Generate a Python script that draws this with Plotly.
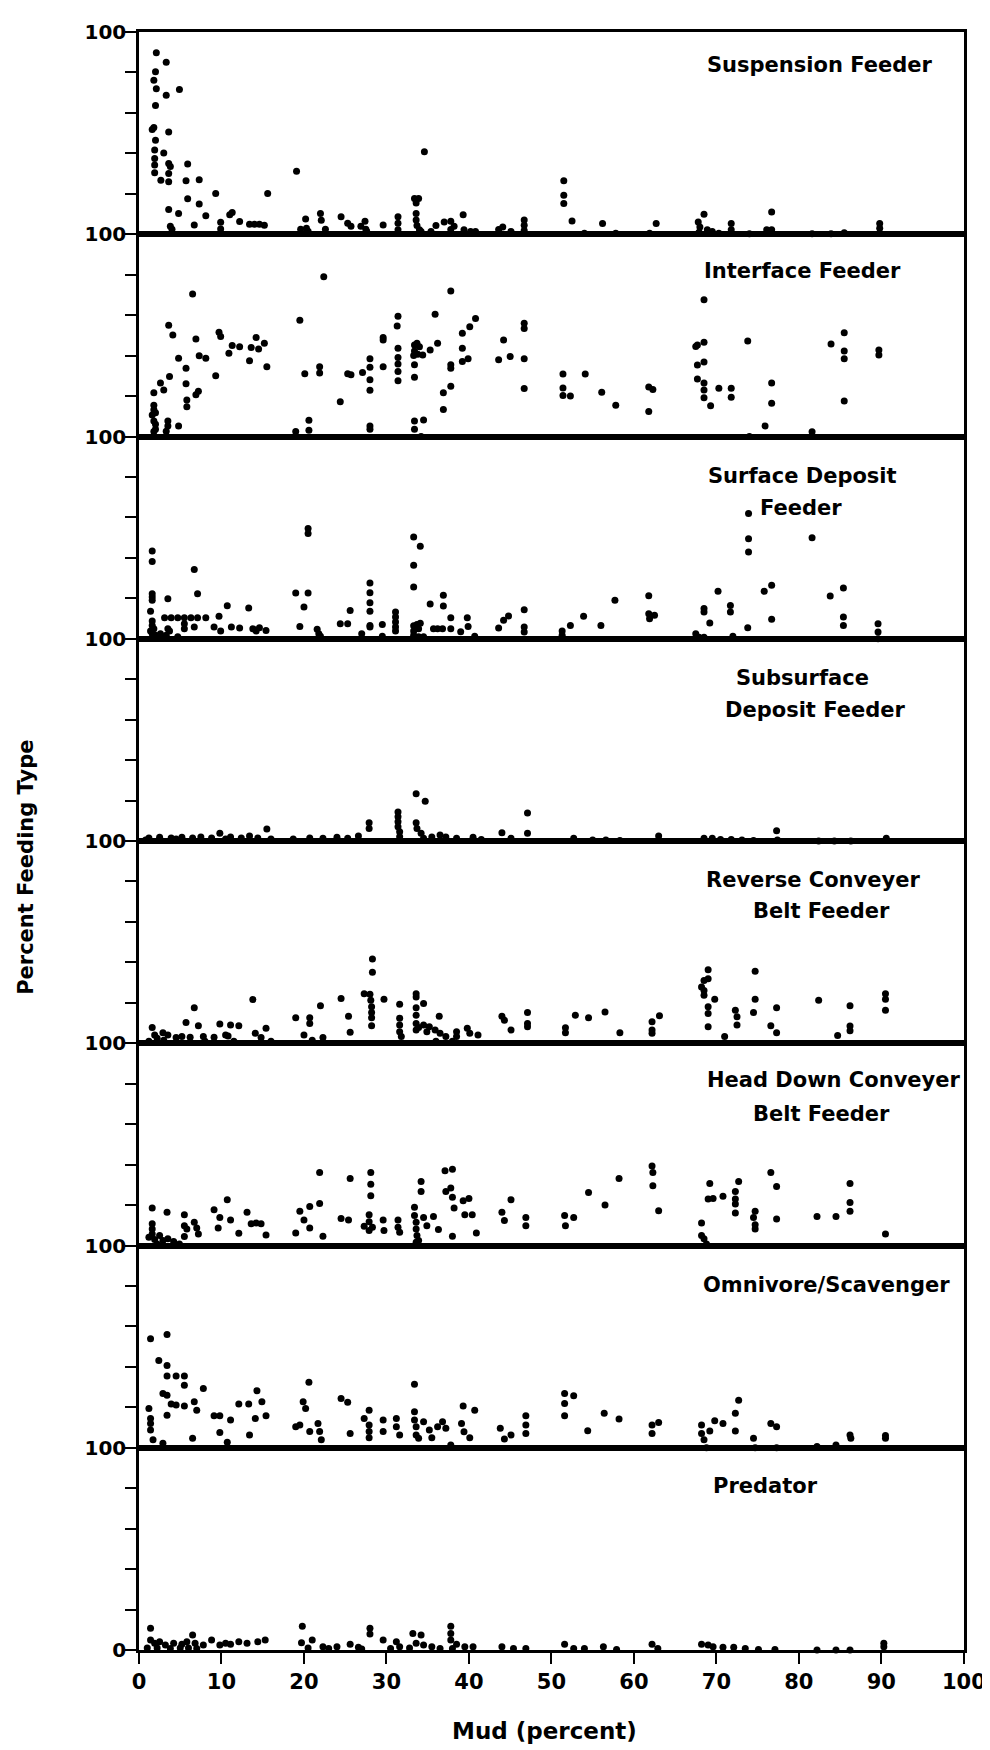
import plotly.graph_objects as go
from plotly.subplots import make_subplots

# ---------------- data (Mud %, Percent feeding type) ----------------
panel_names = ["Suspension Feeder", "Interface Feeder", "Surface Deposit Feeder",
               "Subsurface Deposit Feeder", "Reverse Conveyer Belt Feeder",
               "Head Down Conveyer Belt Feeder", "Omnivore/Scavenger", "Predator"]

susp_x = [2.1,3.3,2.0,1.8,2.1,3.3,4.9,2.0,1.8,1.6,3.6,2.0,1.9,3.0,1.9,1.9,3.6,3.8,1.9,3.6,2.65,3.6,5.9,5.7,7.3,5.9,7.3,3.6,4.8,3.8,4.0,6.7,8.1,9.3,9.9,9.9,11,11.3,12.2,13.4,14.0,14.6,15.2,15.6,19.1,19.6,20.2,20.3,20.5,22.0,22.1,22.6,24.5,25.3,25.7,26.9,27.4,27.5,27.6,29.6,31.4,31.4,31.4,33.4,33.9,33.6,33.6,33.6,33.7,34.0,34.2,34.6,35.4,36,37,37.8,37.8,38.2,39.3,39.4,40.2,40.8,43.6,44.1,45.1,46.7,46.7,46.7,51.5,51.5,51.5,52.5,54,56.2,57.8,61.9,62.7,67.8,68.0,68.5,68.9,69.5,67.9,70.3,71.8,71.8,74,76.7,76.1,76.7,81.6,83.9,85.5,89.8,89.8]
susp_y = [89.8,85,80.4,76.2,72,68.7,71.6,63.7,52.8,51.8,50.5,46.5,41.6,40.2,37.5,34.2,35,33.5,30.4,30,26.7,25.9,34.7,26.4,27,17.5,14.9,12.2,10.2,4,2.5,4.6,9.1,20.1,5.9,2.6,9.7,10.7,6.3,5,5,5,4.5,20.1,31.2,2.5,7.6,3,1.5,10.2,6.9,2.5,8.6,5.5,4,3.9,6.4,2.5,1.5,4.6,8.7,5.4,2.2,17.7,17.7,15.5,10.2,7,4.3,2.2,1.3,40.8,1.4,4.3,6,6.4,2.3,4,9.6,2.2,1.4,1.4,2.3,3.6,1.4,7.1,4.4,1.8,26.4,19.3,15.2,6.6,0.5,5.3,0.5,0.5,5.3,6.1,3.6,9.9,2.2,1.4,1,0.5,5.3,2.2,0.3,11,2.2,2.2,0.3,0.3,0.8,5.3,3]

intf_x = [1.8,1.8,1.8,2.0,1.6,1.8,2.0,2.0,1.8,3.0,2.6,3.6,4.1,3.7,3.5,3.5,3.3,4.8,4.8,5.7,5.7,5.8,5.8,6.5,6.9,6.9,7.2,7.3,8.1,9.3,9.7,9.9,10.9,11.3,12.2,13.4,13.6,14.2,14.5,15.2,15.5,19,19.5,20.1,20.6,20.6,21.9,21.9,22.4,24.4,25.3,25.7,27.1,28,28,28,28,28,28,29.6,29.6,29.6,31.4,31.3,31.4,31.4,31.4,31.4,31.4,33.4,33.7,34,33.4,33.8,33.3,33.4,33.4,34.4,33.4,33.4,34.5,34.2,35.3,35.9,36.2,36.9,36.9,37.8,37.8,37.8,37.8,39.2,39.2,39.2,39.9,40.1,40.8,43.6,44.2,45,46.7,46.7,46.7,46.7,51.4,51.4,51.4,52.3,54.1,56.1,57.8,61.8,62.3,61.8,67.5,67.7,68.5,68.5,67.7,68.5,67.7,68.5,68.5,68.5,69.3,70.3,71.8,71.8,73.8,74,75.9,76.7,76.7,81.6,83.9,85.5,85.5,85.5,85.5,89.7,89.7]
intf_y = [21.6,15.5,13.2,11.8,10.6,7.7,6,3.6,2.5,23,26.5,55,50.2,29.7,7.7,5.2,2.6,38.7,5.2,33.8,26.1,18,14.7,70.4,48.2,20.7,22.4,39.9,38.7,30,51.5,49.4,41.2,45,44.4,37.4,44,48.9,43.3,46.1,34.5,2.5,57.5,31,8,3.1,34.5,31.4,79,17.2,31,30.5,31.7,38.4,34.3,28.1,22.9,5.2,3.6,34.5,49,47.7,59.5,54.6,43.6,39.1,35.8,32.2,27.6,45.3,46.1,44.4,42.3,40.7,40,35.5,29.3,40.3,7.7,3.6,8.2,0,42.8,60.4,46.1,21.6,13.4,35.5,33.8,24.8,72,43.6,51,37.1,38.4,54.3,58.3,37.9,47.7,39.5,56,53.4,38.4,23.7,30.9,24,20.3,20,30.9,21.9,15.5,24.5,23.2,12.3,44.5,45.2,46.6,67.6,35.4,36.8,28.4,26.5,23,19.1,15.2,23.9,23.9,19.4,47.2,0,5.2,26.5,16.5,2.3,45.7,51.3,42.3,38.4,17.5,42.8,40.3]

surf_x = [1.6,1.6,1.6,1.6,1.6,1.4,1.6,1.6,1.8,1.4,1.6,2.0,2.6,2.4,3.5,3.5,3.7,3.3,4.7,3.1,3.9,4.7,5.5,6.3,7.1,8.1,5.5,5.5,6.7,6.7,7.1,9.1,9.9,9.7,10.7,11.2,12.2,13.3,13.8,14.6,15.4,14.2,19,20.5,20.5,20.5,20,19.5,21.6,21.8,22,24.4,25.3,25.6,27,28,28,28,28,28,28,29.5,29.5,31.1,31.1,31.1,31.1,31.1,33.3,34.1,33.3,33.3,33.3,33.7,34.1,33.3,33.9,33.3,33.9,34.5,35.3,35.7,36.2,36.8,36.9,36.9,37.8,37.8,39,39.8,39.9,40.7,43.6,44.2,44.8,46.7,46.7,46.7,51.3,51.3,52.3,53.9,56,57.7,61.8,61.8,61.9,62.5,67.5,67.9,68.5,68.5,68.5,69.2,70.2,71.7,71.7,72,73.8,73.9,73.9,73.9,75.8,76.7,76.7,81.6,83.8,85.4,85.4,85.4,89.6,89.6,89.6]
surf_y = [43.4,38.2,22.3,20.6,19,13.6,8.8,6.6,5,3.8,2.5,1.7,2.5,1,19.8,5,3.8,1.7,1,10.4,10.4,10.4,10.4,10.4,10.4,10.4,7.4,5,5.8,34.3,22.3,5.8,3.8,11.1,16.3,5.8,5.3,15.2,5,5.5,4.1,3.8,22.6,22.6,54.5,52,15.7,6.1,4.7,2.5,1.2,7.4,7.4,14,2.5,27.6,22.8,17.8,13.6,6.6,5.8,7.1,1.2,13.2,10.7,8.3,5.8,3.8,50.3,45.7,36.3,25.6,6.4,7,7.7,3.8,5,1.7,1,1,17.2,5,5,5,21.5,16.2,10.4,5,3.5,10.4,6.1,1.2,5.3,9.1,11.2,14.4,5.8,3.3,3.8,1.7,6.6,11.1,6.6,19,21.3,12.4,9.9,11.6,2.5,0.8,0.8,14.9,13.2,7.8,23.5,16.5,13.2,1.2,5.4,61.9,49.5,42.9,23.5,26.4,9.6,50,21.1,25.1,10.7,6.6,7.4,3.3,0]

subs_x = [0.8,1.2,2.5,3.9,4.5,5.2,6.5,7.5,8.8,9.8,10.5,11.1,12.4,13.4,14.4,15.5,16,18.7,20.7,22.3,24,25.3,26.6,27.9,27.9,31.4,31.4,31.4,31.4,31.6,31.6,33.6,34.7,33.6,33.7,34.2,34.5,35.5,36.5,37.2,38.5,40.5,41.5,44,47.1,47.1,45.1,52.7,55,56.6,58.3,63,68.5,69.5,70.5,71.8,73.1,74.5,77.3,77.4,82.4,84.3,86.3,90.6]
subs_y = [0.5,1.5,1.8,1.5,1,1.8,1.5,2,1.5,3.8,1,2,1.5,2.5,1.5,5.9,1,1,1.5,1.3,1.8,1.3,2.5,9,6.2,14.4,12,9.5,7,4.6,2.1,23.4,19.7,9,6.2,3.8,1.3,2,3,2,1.3,1.8,0.8,4.1,13.9,3.8,1.3,1.3,0.5,0.5,0.2,2.5,1.3,1.3,0.8,0.8,0.5,0.2,5.1,0.5,0,0,0,1.3]

rev_x = [1.2,1.6,1.9,2.9,3.0,3.5,4.5,5.2,2.2,5.7,6.7,7.2,6.2,7.8,8.0,9.1,10.5,9.8,11.1,11.5,12.1,10.8,13.8,14.1,15.4,14.8,16,19,20.7,20.7,20,21,22.3,22,24.5,25.4,25.6,27.3,28,28.3,28.3,28.1,28.2,28.2,28.2,28.2,29.7,31.6,31.6,31.6,31.6,31.8,33.6,33.6,34.5,33.6,33.6,33.6,33.6,33.9,34.5,35.2,34.9,35.9,36.5,36.4,36,37.2,38.5,38,39.8,40.1,41.1,38.5,44,44.3,45.1,47.1,47.1,47.1,51.7,51.7,52.9,54.5,56.5,58.3,62.2,62.2,62.2,63.1,68.5,69,68.2,68.5,68.5,69,69.8,69,69,69,71,72.3,72.5,72.5,74.7,74.7,74.5,76.6,77.3,77.3,82.4,84.7,86.2,86.2,86.2,90.5,90.5,90.5]
rev_y = [1,7.8,4.1,5.2,1.5,4.1,2.9,3.3,2.5,10.3,17.6,8.7,3,3.3,1,3,4.1,9.5,9,1,8.7,3.6,21.6,4.9,7.4,2.9,1,12.6,12.6,9.8,4.1,1.5,2.9,18.5,22.1,13.4,5.4,24.5,24.2,41.7,35.1,21.2,18,15.2,12.6,8.7,21.7,19.3,12.3,9,5.7,3.3,24.5,22.9,19.6,17.6,13.9,9.8,6.5,7.8,9,8.2,5.7,6.5,4.9,13.4,1,3.3,5.7,1,7.4,4.9,4.1,3.3,13.4,11.4,6.5,15.2,9.8,8.2,7.7,5.2,13.9,12.6,15.5,5.2,10.6,6.5,4.9,13.6,31,31.9,27.8,26.1,23.7,36.4,21.7,18,14.7,8.2,3.3,16.3,13.1,9,35.6,21.7,15.2,8.7,5.2,17.6,21.2,3.8,18.5,8.5,6.2,24.5,21.7,16.3]

head_x = [1.6,1.6,1.6,1.6,1.2,1.9,2.5,2.9,3.5,4.2,2.2,4.9,3.4,5.5,5.5,5.8,5.5,6.7,7,7.2,9.1,9.8,10.7,11.1,9.6,12.1,13.1,13.6,14.2,14.8,15.4,19,19.5,20,20.7,20.7,21.9,22.3,21.9,24.5,25.4,25.6,28.1,28.1,28.1,27.9,27.9,27.3,27.9,28.3,29.6,29.7,31.4,31.4,31.6,33.4,33.4,33.6,33.6,33.7,33.6,33.9,34.5,34.9,34.2,34.2,35.7,36.3,37.1,38,37.2,37.8,38,38.2,38,39.3,40,39.5,40.4,40.9,44,44.3,45.1,46.9,46.9,51.6,51.7,52.7,54.5,56.5,58.2,62.2,62.3,62.3,63,68.2,68.2,68.5,68.8,69.2,69,69.6,70.8,72.3,72.7,72.3,72.3,72.3,74.7,74.5,74.7,74.7,76.6,77.3,77.3,82.2,84.5,86.2,86.2,86.2,90.5]
head_y = [18.5,10.7,8.2,5.7,4.1,3,4.9,2.5,3.3,2,0.8,0.8,16.4,15.2,9.8,8.2,4.4,11.5,8.7,5.7,17.7,13.9,22.6,12.6,8.7,6.1,16.4,10.7,11.1,10.7,5.2,6.2,16.9,12.6,19.3,8.7,20.8,4.6,36.1,13.4,12.6,33.1,36.1,30.3,24.6,15.2,11.8,9.5,7.4,9,12.6,7.4,12.6,9,6.6,18.9,14.8,11.5,8.2,4.9,1.6,2.5,13.9,9.8,31.6,26.7,14.3,7.9,36.9,37.7,26.7,28.4,23.8,18.5,4.6,22.1,23.3,15.2,15.2,6.2,16.4,12.3,22.6,13.9,9.8,14.8,9.8,13.9,26.2,20,33.1,39.3,36.1,29.5,17.2,11.1,4.9,3.3,0.8,30.7,23,23.3,24.3,26.7,31.6,23,20.5,16.1,16.9,13.9,10.3,8.2,36.1,29.2,13.1,14.3,14.4,30.7,21.3,16.9,5.7]

omni_x = [1.4,3.4,2.4,3.4,3.4,4.5,5.5,5.5,2.9,3.4,3.9,4.5,5.5,1.2,1.4,1.4,1.4,1.7,2.9,3.4,6.7,7,7.8,6.5,9.1,9.8,11.1,9.8,10.7,12.1,13.3,14.3,14.9,14.1,15.4,13.4,19,19.5,19.9,20.2,20.6,20.7,21.7,21.9,22.1,24.5,25.3,25.6,27.3,27.9,27.9,27.9,27.9,29.6,29.6,31.2,31.2,31.6,33.4,33.4,33.4,33.6,33.6,33.9,34.5,35.2,35.5,36.2,36.8,37.2,37.8,39.1,39.4,40.1,39.3,40.7,43.8,44.3,45.1,46.9,46.9,46.9,51.6,52.7,51.6,51.6,54.4,56.4,58.2,62.2,62.2,63,68.2,68.2,68.5,68.8,69.2,69.8,70.8,72.7,72.3,72.3,74.5,74.7,76.6,77.3,77.3,82.2,84.5,86.2,86.3,90.5,90.5]
omni_y = [53.9,56,43.2,40.7,35.5,35.5,35.5,30.9,26.8,26,21.6,21.1,20.6,19.4,14.5,12,8.8,3.9,2.2,16.1,22.7,18.6,29.3,4.7,15.8,15.8,13.7,7.5,2.7,21.6,21.6,28.2,22.7,14.5,15.8,6.3,10.4,11.2,22.7,19.4,32.4,8,12,8,3.9,24.3,22.5,7.1,14.5,18.6,11.2,8,5,13.7,8,14.5,10.4,6.3,31.4,17.8,13.7,10.4,6.3,4.7,12.9,8.8,5,10.4,12.9,9.6,1.4,12,7.9,5,20.6,18.6,9.6,4.3,6.3,15.8,11.2,7.1,26.8,25.7,21.9,15.8,8.4,17,14.2,11.2,7.1,12.5,11.2,7.1,3.9,0,8.3,13.4,12,23.5,17,8.3,4.7,0,12,10.4,0,0.6,1.4,6.3,4.7,6,4.7]

pred_x = [1.0,1.4,1.4,1.9,2.2,2.5,3.2,3.8,4.2,5.0,5.2,5.8,6.0,6.5,6.8,7.0,7.8,8.8,9.8,10.5,11.1,12.1,13.1,14.4,15.3,19.8,19.7,20.5,21,22.3,23,24,25.6,26.6,27,28,28,29.6,30.5,31.2,31.6,32.8,33.2,34.2,33.6,34.5,35.5,36.5,37.8,37.8,37.8,38,38.5,39.5,40.5,44,45.4,46.9,51.6,52.7,54,56.3,57.9,62.2,62.9,68.2,69,69.6,70.8,72.1,73.5,75.1,77.1,82.2,84.5,86.2,90.3,90.3]
pred_y = [1,10.7,4.9,3.3,1,4.1,2.5,0.8,3.3,1,2.9,4.1,1,7.4,3.3,0.8,2.5,4.9,2.5,3.3,2.9,4.1,3.3,4.1,4.9,11.8,3.6,1,4.9,1.6,0.8,1.6,2.9,1.3,0.5,10.7,7.9,4.9,0.8,4.1,1.6,1,8.2,7.4,3.3,2.5,1.6,0.8,11.8,8.2,4.9,0.8,2.9,1.6,1.6,1.6,0.8,0.8,2.9,0.8,0.8,1.6,0.3,2.9,0.8,2.9,2.5,1.6,1.3,1.3,0.8,0.3,0.3,0,0,0,3.3,1.6]

panel_x = [susp_x, intf_x, surf_x, subs_x, rev_x, head_x, omni_x, pred_x]
panel_y = [susp_y, intf_y, surf_y, subs_y, rev_y, head_y, omni_y, pred_y]

# panel label lines: (row, text, x, y)
label_lines = [
    (1, "Suspension Feeder", 82.5, 83.5),
    (2, "Interface Feeder", 80.5, 82.0),
    (3, "Surface Deposit", 80.5, 80.5),
    (3, "Feeder", 80.3, 64.8),
    (4, "Subsurface", 80.5, 80.6),
    (4, "Deposit Feeder", 82.0, 64.9),
    (5, "Reverse Conveyer", 81.7, 80.8),
    (5, "Belt Feeder", 82.8, 65.6),
    (6, "Head Down Conveyer", 84.3, 81.6),
    (6, "Belt Feeder", 82.7, 64.9),
    (7, "Omnivore/Scavenger", 83.4, 80.3),
    (8, "Predator", 75.9, 81.1),
]

y_ticks = [0, 20, 40, 60, 80, 100]
x_ticks = [0, 10, 20, 30, 40, 50, 60, 70, 80, 90, 100]

FONT = "DejaVu Sans"

fig = make_subplots(rows=8, cols=1, shared_xaxes=True, vertical_spacing=0)

for i in range(8):
    fig.add_trace(go.Scatter(
        x=panel_x[i], y=panel_y[i], mode="markers",
        marker=dict(color="black", size=7, line=dict(width=0)),
        cliponaxis=False, showlegend=False, name=panel_names[i]),
        row=i + 1, col=1)

for i in range(8):
    last = (i == 7)
    ttext = ["0" if last else "", "", "", "", "", "100"]
    fig.update_yaxes(
        range=[0, 100], tickvals=y_ticks, ticktext=ttext,
        ticks="outside", ticklen=11, tickwidth=2, tickcolor="black",
        ticklabelstandoff=-5,
        showline=True, linewidth=2.5, linecolor="black", mirror=True,
        showgrid=False, zeroline=False,
        tickfont=dict(family=FONT, size=20, color="black", weight="bold"),
        row=i + 1, col=1)
    fig.update_xaxes(
        range=[0, 100.02], tickvals=x_ticks,
        ticks="outside" if last else "", ticklen=11, tickwidth=2, tickcolor="black",
        showticklabels=last,
        showline=True, linewidth=2.5, linecolor="black", mirror=True,
        showgrid=False, zeroline=False,
        tickfont=dict(family=FONT, size=21, color="black", weight="bold"),
        row=i + 1, col=1)

annotations = []
for row, text, x, y in label_lines:
    yref = "y" if row == 1 else f"y{row}"
    annotations.append(dict(
        text=f"<b>{text}</b>", x=x, y=y, xref="x", yref=yref,
        showarrow=False, xanchor="center", yanchor="middle",
        font=dict(family=FONT, size=21, color="black")))

annotations.append(dict(
    text="<b>Percent Feeding Type</b>", x=-0.137, y=0.484,
    xref="paper", yref="paper", textangle=-90, showarrow=False,
    xanchor="center", yanchor="middle",
    font=dict(family=FONT, size=21, color="black")))
annotations.append(dict(
    text="<b>Mud (percent)</b>", x=0.491, y=-0.05,
    xref="paper", yref="paper", showarrow=False,
    xanchor="center", yanchor="middle",
    font=dict(family=FONT, size=23, color="black")))

# page body adds an 8px offset; margins compensate so the plot area sits at
# x 139..970, y 22..1650 in the browser window
fig.update_layout(
    width=990, height=1750,
    margin=dict(l=131, r=28, t=14, b=108),
    paper_bgcolor="white", plot_bgcolor="white",
    annotations=annotations, showlegend=False,
)

fig.write_html("out.html")
